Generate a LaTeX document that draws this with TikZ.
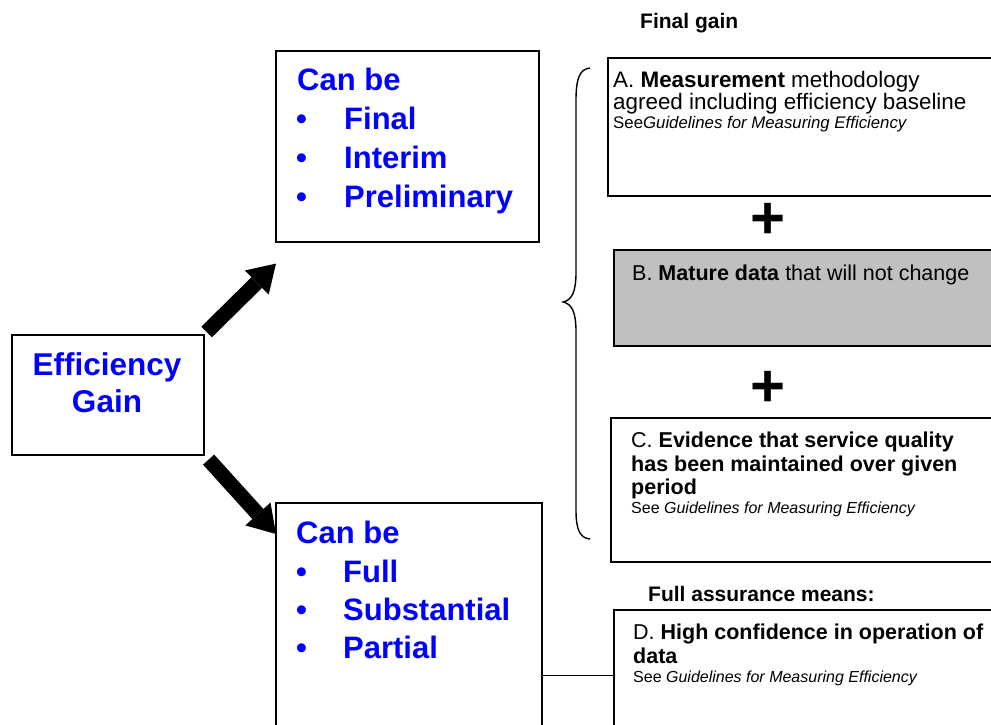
\documentclass[tikz,border=0pt]{standalone}
\usepackage{fontspec}
\setmainfont{Liberation Sans}
\usetikzlibrary{arrows.meta}
\definecolor{cblue}{RGB}{0,0,255}
\definecolor{bgray}{RGB}{192,192,192}
\begin{document}
\begin{tikzpicture}[x=1pt,y=-1pt,
 box/.style={draw,line width=1.6pt,rectangle,inner sep=0pt,anchor=north west},
 txt/.style={inner sep=0pt,anchor=base west,font=\fontsize{21.5}{24}\selectfont},
 txtA/.style={inner sep=0pt,anchor=base west,font=\fontsize{22.4}{24}\selectfont},
 small/.style={inner sep=0pt,anchor=base west,font=\fontsize{16}{18}\selectfont},
 smallA/.style={inner sep=0pt,anchor=base west,font=\fontsize{16.8}{18}\selectfont},
 head/.style={inner sep=0pt,anchor=base west,font=\fontsize{21}{24}\selectfont\bfseries},
 blu/.style={inner sep=0pt,anchor=base west,text=cblue,font=\fontsize{31}{39}\selectfont\bfseries},
 bluc/.style={inner sep=0pt,anchor=base,text=cblue,font=\fontsize{31.5}{39}\selectfont\bfseries},
 plus/.style={inner sep=0pt,font=\fontsize{60}{60}\selectfont\bfseries},
 bigarrow/.style={line width=15pt,-{Triangle[length=27pt,width=34pt,line width=0pt]}},
]
\useasboundingbox (0,0) rectangle (991,724);
\clip (0,0) rectangle (991,724);

% boxes
\node[box,minimum width=192pt,minimum height=120pt] (eg) at (11,334) {};
\node[box,minimum width=263pt,minimum height=191pt] (top) at (275,50) {};
\node[box,minimum width=266pt,minimum height=260pt] (bot) at (275,502) {};
\node[box,minimum width=400pt,minimum height=138pt] (A) at (607,57) {};
\node[box,fill=bgray,minimum width=400pt,minimum height=96pt] (B) at (613,249) {};
\node[box,minimum width=400pt,minimum height=144pt] (C) at (610,417) {};
\node[box,minimum width=400pt,minimum height=160pt] (D) at (613,609) {};

% Efficiency gain
\node[bluc] (eg1) at (107,375) {Efficiency};
\node[bluc] (eg2) at (107,412) {Gain};

% top list
\node[blu] (t0) at (297,90) {Can be};
\node[blu] (tb1) at (296,129) {•};
\node[blu] (t1) at (344,129) {Final};
\node[blu] (tb2) at (296,168) {•};
\node[blu] (t2) at (344,168) {Interim};
\node[blu] (tb3) at (296,207) {•};
\node[blu] (t3) at (344,207) {Preliminary};

% bottom list
\node[blu] (b0) at (296,543) {Can be};
\node[blu] (bb1) at (296,582) {•};
\node[blu] (b1) at (343,582) {Full};
\node[blu] (bb2) at (296,620) {•};
\node[blu] (b2) at (343,620) {Substantial};
\node[blu] (bb3) at (296,658) {•};
\node[blu] (b3) at (343,658) {Partial};

% headers
\node[head] (h1) at (640,28) {Final gain};
\node[head] (h2) at (648,601) {Full assurance means:};

% A
\node[txtA] (a1) at (613,87) {A. \textbf{Measurement} methodology};
\node[txtA] (a2) at (613,109) {agreed including efficiency baseline};
\node[smallA] (a3) at (613,128) {See\textit{Guidelines for Measuring Efficiency}};

% B
\node[txt] (b1t) at (632,280) {B. \textbf{Mature data} that will not change};

% C
\node[txt] (c1) at (631,447) {C. \textbf{Evidence that service quality}};
\node[txt] (c2) at (631,471) {\textbf{has been maintained over given}};
\node[txt] (c3) at (631,494) {\textbf{period}};
\node[small] (c4) at (631,513) {See \textit{Guidelines for Measuring Efficiency}};

% D
\node[txt] (d1) at (633,639) {D. \textbf{High confidence in operation of}};
\node[txt] (d2) at (633,663) {\textbf{data}};
\node[small] (d3) at (633,682) {See \textit{Guidelines for Measuring Efficiency}};

% plus signs
\node[plus] (p1) at (768,221) {+};
\node[plus] (p2) at (768,389) {+};

% arrows
\draw[bigarrow] ([shift={(2,-2)}]eg.north east) -- ([shift={(1,21)}]top.south west);
\draw[bigarrow] ([shift={(4,4)}]eg.south east) -- ([shift={(1,32)}]bot.north west);

% connector
\coordinate (jl) at (580,675);
\draw[line width=1pt] (bot.east |- jl) -- (D.west |- jl);

% brace
\draw[line width=1.4pt] (590,68) .. controls (580,69) and (576,78) .. (576,100)
  -- (576,272) .. controls (576,292) and (572,300) .. (563,302)
  .. controls (572,304) and (576,312) .. (576,332)
  -- (576,510) .. controls (576,530) and (580,538) .. (590,539);
\end{tikzpicture}
\end{document}
